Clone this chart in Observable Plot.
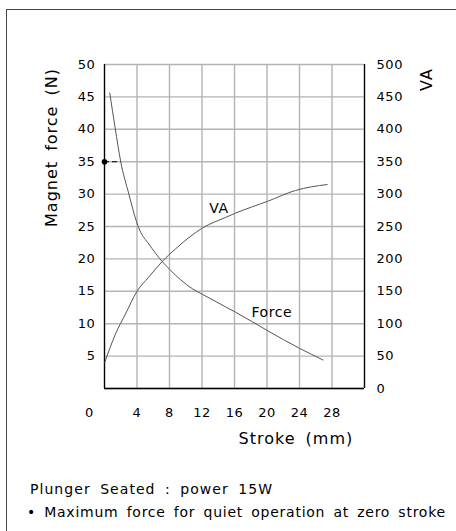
<!DOCTYPE html>
<html>
<head>
<meta charset="utf-8">
<script src="https://cdn.jsdelivr.net/npm/d3@7"></script>
<script src="https://cdn.jsdelivr.net/npm/@observablehq/plot@0.6"></script>
<style>
  html, body { margin: 0; padding: 0; background: #fff; }
  #wrap { position: relative; width: 456px; height: 531px; overflow: hidden; font-family: "DejaVu Sans", sans-serif; }
  #frame { position: absolute; left: 6px; top: 9px; width: 460px; height: 540px; border-top: 1.5px solid #444; border-left: 1.5px solid #444; }
  #chart { position: absolute; left: 0; top: 0; }
  #chart svg text { letter-spacing: 0.6px; word-spacing: 3px; }
  #chart svg .title text { letter-spacing: 1px; word-spacing: 4px; }
  .cap { position: absolute; left: 30px; font-size: 14px; letter-spacing: 0.75px; word-spacing: 3px; color: #000; white-space: nowrap; }
</style>
</head>
<body>
<div id="wrap">
  <div id="frame"></div>
  <div id="chart"></div>
  <div class="cap" style="top:481px; letter-spacing:1.05px; word-spacing:4px;">Plunger Seated : power 15W</div>
  <div class="cap" style="top:504px; left:27px;">• Maximum force for quiet operation at zero stroke</div>
</div>
<script>
// ---- data ----
const forceStroke = [0.65, 1.3, 2.0, 3.0, 3.9, 4.35, 5.45, 7.1, 8.0, 10.8, 12.1, 14.9, 16.1, 20.1, 24.0, 26.9];
const forceN      = [45.6, 40.3, 35.0, 30.0, 25.9, 24.4, 22.3, 19.6, 18.4, 15.4, 14.5, 12.6, 11.8, 8.9, 6.2, 4.4];

const vaStroke = [0.04, 1.35, 2.58, 4.0, 5.45, 7.1, 8.7, 12.1, 14.9, 16.1, 20.1, 23.5, 27.4];
const vaValue  = [40.6, 84, 115, 150, 172, 196, 215, 248, 264, 270.5, 289, 305.6, 314.8];

const strokeGrid = [0, 4, 8, 12, 16, 20, 24, 28, 32];
const strokeTickLabels = [4, 8, 12, 16, 20, 24, 28];
const strokeZeroLabel = [0];
const forceGrid = [0, 5, 10, 15, 20, 25, 30, 35, 40, 45, 50];
const forceTickLabels = [5, 10, 15, 20, 25, 30, 35, 40, 45, 50];
const vaTickLabels = [0, 50, 100, 150, 200, 250, 300, 350, 400, 450, 500];
const vaPerNewton = 10; // right axis: 500 VA at 50 N

const quietForce = 35;      // marked point on force axis
const quietStroke = 2.0;    // where the dashed lead meets the force curve

const curveLabels = [
  {text: "VA", stroke: 14.1, y: 27.85},
  {text: "Force", stroke: 20.6, y: 11.8}
];

const xTitle = "Stroke (mm)";
const yTitle = "Magnet force (N)";
const y2Title = "VA";

// ---- build tables ----
const forceData = forceStroke.map((s, i) => ({stroke: s, value: forceN[i]}));
const vaData = vaStroke.map((s, i) => ({stroke: s, value: vaValue[i] / vaPerNewton}));

const chart = Plot.plot({
  width: 456,
  height: 462,
  marginLeft: 104,
  marginRight: 92,
  marginTop: 64,
  marginBottom: 74,
  style: {fontFamily: "DejaVu Sans, sans-serif", fontSize: "13px", color: "#000", background: "transparent"},
  x: {domain: [0, 32], axis: null},
  y: {domain: [0, 50], axis: null},
  marks: [
    Plot.gridX(strokeGrid, {stroke: "#b4b4b4", strokeOpacity: 1, strokeWidth: 1.4}),
    Plot.gridY(forceGrid, {stroke: "#b4b4b4", strokeOpacity: 1, strokeWidth: 1.4}),
    Plot.ruleX([strokeGrid[0], strokeGrid[strokeGrid.length - 1]], {stroke: "#000", strokeWidth: 1.3}),
    Plot.ruleY([forceGrid[0]], {stroke: "#000", strokeWidth: 1.3}),
    Plot.lineY(forceData, {x: "stroke", y: "value", stroke: "#555", strokeWidth: 1, curve: "monotone-x"}),
    Plot.lineY(vaData, {x: "stroke", y: "value", stroke: "#555", strokeWidth: 1, curve: "monotone-x"}),
    Plot.ruleY([quietForce], {x1: 0, x2: quietStroke, stroke: "#000", strokeWidth: 1, strokeDasharray: "5,3"}),
    Plot.dot([quietForce], {x: 0, y: d => d, r: 2.8, fill: "#000", stroke: null}),
    Plot.text(curveLabels, {x: "stroke", y: "y", text: "text", fontSize: 14, fill: "#000"}),
    Plot.axisY(forceTickLabels, {anchor: "left", tickSize: 0, tickPadding: 9, label: null, fontSize: 13}),
    Plot.axisY(vaTickLabels.map(v => v / vaPerNewton), {anchor: "right", tickSize: 0, tickPadding: 12, tickFormat: d => d * vaPerNewton, label: null, fontSize: 13}),
    Plot.axisX(strokeTickLabels, {anchor: "bottom", tickSize: 0, tickPadding: 19, label: null, fontSize: 13}),
    Plot.axisX(strokeZeroLabel, {anchor: "bottom", tickSize: 0, tickPadding: 19, label: null, fontSize: 13, dx: -15}),
    Plot.text([yTitle], {frameAnchor: "top-left", rotate: -90, dx: -59, dy: 83, fontSize: 16, textAnchor: "middle", className: "title"}),
    Plot.text([y2Title], {frameAnchor: "top-right", rotate: -90, dx: 56, dy: 15, fontSize: 16, textAnchor: "middle", className: "title"}),
    Plot.text([xTitle], {frameAnchor: "bottom-left", dx: 134, dy: 55, fontSize: 16, textAnchor: "start", className: "title"})
  ]
});
document.getElementById("chart").appendChild(chart);
</script>
</body>
</html>
